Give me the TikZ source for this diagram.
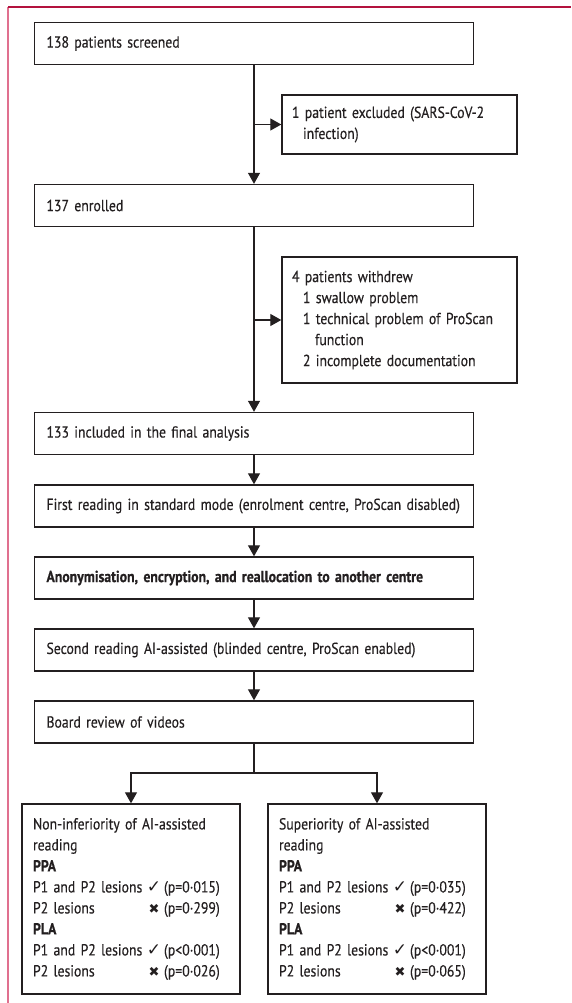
\documentclass[tikz,border=0pt]{standalone}
\usepackage{fontspec}
\setmainfont{PT Sans}[FakeStretch=0.86, UprightFeatures={FakeBold=0.35}, BoldFeatures={FakeBold=0.6}]
\newfontfamily\symfont{DejaVu Sans}
\usetikzlibrary{arrows.meta}
\definecolor{ink}{HTML}{231F20}
\definecolor{framered}{HTML}{B3123E}
\definecolor{framepink}{HTML}{E0708F}
\newcommand{\ok}{{\symfont\fontsize{17}{14}\selectfont ✓}}
\newcommand{\no}{{\symfont\fontsize{13}{14}\selectfont ✖}}
\newcommand{\resrow}[3]{\makebox[112pt][l]{#1}\makebox[18pt][c]{#2}\hspace{1pt}#3}
\begin{document}
\begin{tikzpicture}[x=1pt,y=-1pt,
  every node/.style={font=\fontsize{16}{21}\selectfont, text=ink},
  mainbox/.style={draw=ink, line width=1.4pt, rectangle, minimum width=439pt, minimum height=42pt,
     text width=415pt, inner xsep=12pt, align=left},
  sidebox/.style={draw=ink, line width=1.4pt, rectangle, minimum width=235pt,
     text width=215pt, inner xsep=10pt, align=left},
  resbox/.style={draw=ink, line width=1.4pt, rectangle, minimum width=218pt, minimum height=190pt,
     text width=196pt, inner xsep=11pt, align=left},
  conn/.style={draw=ink, line width=1.2pt},
  arr/.style={conn, -{Triangle[length=11pt,width=12pt]}}
]
\useasboundingbox (0,0) rectangle (571,1003);
% frame
\draw[framepink, line width=1.4pt] (8,7) -- (8,1003);
\draw[framered, line width=1.4pt] (8,7) -- (571,7);

% main boxes
\node[mainbox] (b1) at (254,43.5) {138 patients screened};
\node[mainbox] (b2) at (254,205.5) {137 enrolled};
\node[mainbox] (b3) at (254,433.5) {133 included in the final analysis};
\node[mainbox] (b4) at (254,506) {First reading in standard mode (enrolment centre, ProScan disabled)};
\node[mainbox] (b5) at (254,578) {\bfseries Anonymisation, encryption, and reallocation to another centre};
\node[mainbox] (b6) at (254,650) {Second reading AI-assisted (blinded centre, ProScan enabled)};
\node[mainbox] (b7) at (254,722) {Board review of videos};

% side boxes
\node[sidebox, minimum height=59pt] (ex) at (399.5,124.5) {1 patient excluded (SARS-CoV-2\\\hspace*{11pt}infection)};
\node[sidebox, minimum height=126pt] (wd) at (399.5,320) {4 patients withdrew\\
\hspace*{11pt}1 swallow problem\\
\hspace*{11pt}1 technical problem of ProScan\\
\hspace*{23pt}function\\
\hspace*{11pt}2 incomplete documentation};

% result boxes
\node[resbox] (r1) at (131,899) {Non-inferiority of AI-assisted\\reading\\
\textbf{PPA}\\
\resrow{P1 and P2 lesions}{\ok}{(p=0·015)}\\
\resrow{P2 lesions}{\no}{(p=0·299)}\\
\textbf{PLA}\\
\resrow{P1 and P2 lesions}{\ok}{(p<0·001)}\\
\resrow{P2 lesions}{\no}{(p=0·026)}};
\node[resbox] (r2) at (377,899) {Superiority of AI-assisted\\reading\\
\textbf{PPA}\\
\resrow{P1 and P2 lesions}{\ok}{(p=0·035)}\\
\resrow{P2 lesions}{\no}{(p=0·422)}\\
\textbf{PLA}\\
\resrow{P1 and P2 lesions}{\ok}{(p<0·001)}\\
\resrow{P2 lesions}{\no}{(p=0·065)}};

% connectors
\coordinate (j1) at (254,124.5);
\coordinate (j2) at (254,320);
\coordinate (split) at (254,773);
\draw[arr] (b1.south) -- (b2.north);
\draw[arr] (j1) -- (ex.west);
\draw[arr] (b2.south) -- (b3.north);
\draw[arr] (j2) -- (wd.west);
\draw[arr] (b3.south) -- (b4.north);
\draw[arr] (b4.south) -- (b5.north);
\draw[arr] (b5.south) -- (b6.north);
\draw[arr] (b6.south) -- (b7.north);
\draw[conn] (b7.south) -- (split);
\draw[arr] (split) -| (r1.north);
\draw[arr] (split) -| (r2.north);
\end{tikzpicture}
\end{document}
